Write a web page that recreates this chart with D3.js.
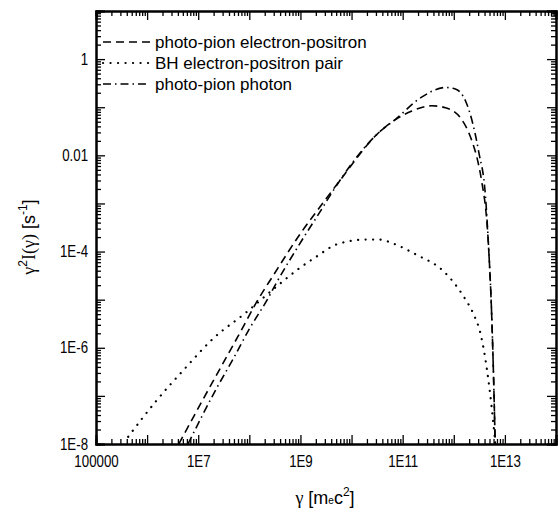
<!DOCTYPE html>
<html>
<head>
<meta charset="utf-8">
<script src="https://cdn.jsdelivr.net/npm/d3@7"></script>
<style>
  body { margin: 0; background: #fff; }
  .tick text { font-family: "Liberation Sans", Arial, sans-serif; font-size: 16px; fill: #000; }
  .legend text { font-family: "Liberation Sans", Arial, sans-serif; font-size: 17px; }
</style>
</head>
<body>
<script>
// Chart Params
var svgWidth = 558;
var svgHeight = 513;
var margin = { top: 11, right: 2, bottom: 69, left: 96 };
var width = svgWidth - margin.left - margin.right;
var height = svgHeight - margin.top - margin.bottom;
var narrow = 0.83; // tick labels use a condensed face

// tick labels (every second decade is labelled)
var xTickValues = [1e5, 1e7, 1e9, 1e11, 1e13];
var xTickLabels = ["100000", "1E7", "1E9", "1E11", "1E13"];
var yTickValues = [1, 1e-2, 1e-4, 1e-6, 1e-8];
var yTickLabels = ["1", "0.01", "1E-4", "1E-6", "1E-8"];

// series as [log10 gamma, log10 value]
var seriesNames = ["photo-pion electron-positron", "BH electron-positron pair", "photo-pion photon"];

var pionPairs = [
  [6.62, -8.0], [7.09, -7.08], [7.45, -6.39], [7.78, -5.76], [8.17, -5.0],
  [8.46, -4.51], [9.01, -3.61], [9.37, -3.09], [9.76, -2.54], [10.54, -1.52],
  [11.18, -1.08], [11.57, -0.97], [11.84, -1.01], [12.15, -1.25], [12.32, -1.6],
  [12.49, -2.22], [12.54, -2.5], [12.68, -3.89], [12.74, -5.27], [12.78, -6.67],
  [12.81, -8.0]
];

var bhPairs = [
  [5.63, -7.85], [6.19, -7.09], [6.74, -6.43], [7.3, -5.8], [7.92, -5.28],
  [8.54, -4.72], [9.0, -4.33], [9.32, -4.1], [9.71, -3.85], [10.3, -3.75],
  [10.54, -3.75], [10.83, -3.84], [11.26, -4.06], [11.8, -4.41], [12.19, -4.93],
  [12.39, -5.31], [12.52, -5.69], [12.65, -6.46], [12.74, -7.22], [12.8, -7.85],
  [12.83, -8.2]
];

var pionPhotons = [
  [6.8, -8.0], [7.36, -6.84], [7.69, -6.22], [8.01, -5.59], [8.34, -5.02],
  [8.53, -4.65], [9.02, -3.78], [9.45, -3.06], [9.56, -2.87], [10.54, -1.52],
  [10.86, -1.25], [11.37, -0.79], [11.84, -0.59], [12.03, -0.62], [12.23, -0.87],
  [12.35, -1.25], [12.49, -1.94], [12.62, -2.85], [12.68, -3.89], [12.74, -5.27],
  [12.78, -6.67], [12.81, -8.0]
];

var svg = d3.select("body")
  .append("svg")
  .attr("width", svgWidth)
  .attr("height", svgHeight);

var chartGroup = svg.append("g")
  .attr("transform", `translate(${margin.left}, ${margin.top})`);

var xScale = d3.scaleLog().domain([1e5, 1e14]).range([0, width]);
var yScale = d3.scaleLog().domain([1e-8, 1e1]).range([height, 0]);

// decade and minor tick positions
var xMajor = d3.range(5, 15).map(e => Math.pow(10, e));
var yMajor = d3.range(-8, 2).map(e => Math.pow(10, e));
function minors(majors) {
  var out = [];
  majors.slice(0, -1).forEach(m => { for (var k = 2; k <= 9; k++) out.push(m * k); });
  return out;
}

function fmt(vals, labels) {
  return function (d) {
    var i = vals.findIndex(v => Math.abs(Math.log10(v) - Math.log10(d)) < 1e-6);
    return i >= 0 ? labels[i] : "";
  };
}

// bottom axis
var xAxis = chartGroup.append("g")
  .attr("transform", `translate(0, ${height})`)
  .call(d3.axisBottom(xScale).tickValues(xMajor).tickSize(-9).tickPadding(12)
    .tickFormat(fmt(xTickValues, xTickLabels)));
xAxis.selectAll("text").attr("transform", `scale(${narrow},1)`);
chartGroup.append("g")
  .attr("transform", `translate(0, ${height})`)
  .call(d3.axisBottom(xScale).tickValues(minors(xMajor)).tickSize(-5).tickFormat(""));
// top axis
chartGroup.append("g")
  .call(d3.axisTop(xScale).tickValues(xMajor).tickSize(-9).tickFormat(""));
chartGroup.append("g")
  .call(d3.axisTop(xScale).tickValues(minors(xMajor)).tickSize(-5).tickFormat(""));
// left axis
var yAxis = chartGroup.append("g")
  .call(d3.axisLeft(yScale).tickValues(yMajor).tickSize(-9).tickPadding(8)
    .tickFormat(fmt(yTickValues, yTickLabels)));
yAxis.selectAll("text")
  .attr("x", -8 / narrow)
  .attr("transform", `scale(${narrow},1)`);
chartGroup.append("g")
  .call(d3.axisLeft(yScale).tickValues(minors(yMajor)).tickSize(-5).tickFormat(""));
// right axis
chartGroup.append("g")
  .attr("transform", `translate(${width}, 0)`)
  .call(d3.axisRight(yScale).tickValues(yMajor).tickSize(-9).tickFormat(""));
chartGroup.append("g")
  .attr("transform", `translate(${width}, 0)`)
  .call(d3.axisRight(yScale).tickValues(minors(yMajor)).tickSize(-5).tickFormat(""));

chartGroup.selectAll(".domain").attr("stroke", "#000").attr("stroke-width", 2);
chartGroup.selectAll(".tick line").attr("stroke", "#000").attr("stroke-width", 1.3);

// clip the curves to the frame
svg.append("defs").append("clipPath").attr("id", "plotclip")
  .append("rect").attr("width", width).attr("height", height);

var line = d3.line()
  .x(d => xScale(Math.pow(10, d[0])))
  .y(d => yScale(Math.pow(10, d[1])))
  .curve(d3.curveMonotoneX);

var styles = [
  { data: pionPairs, dash: "8,5", w: 1.6, cap: "butt" },
  { data: bhPairs, dash: "0.1,7.4", w: 2.2, cap: "round" },
  { data: pionPhotons, dash: "8,4,1.5,4", w: 1.6, cap: "butt" }
];

var curves = chartGroup.append("g").attr("clip-path", "url(#plotclip)");
styles.forEach(s => {
  curves.append("path")
    .datum(s.data)
    .attr("d", line)
    .attr("fill", "none")
    .attr("stroke", "#000")
    .attr("stroke-width", s.w)
    .attr("stroke-linecap", s.cap)
    .attr("stroke-dasharray", s.dash);
});

// legend
var legend = svg.append("g").attr("class", "legend");
var legendRows = [42, 63, 84];
seriesNames.forEach((name, i) => {
  legend.append("line")
    .attr("x1", 103).attr("x2", 150)
    .attr("y1", legendRows[i]).attr("y2", legendRows[i])
    .attr("stroke", "#000")
    .attr("stroke-width", styles[i].w)
    .attr("stroke-linecap", styles[i].cap)
    .attr("stroke-dasharray", styles[i].dash);
  legend.append("text")
    .attr("x", 155)
    .attr("y", legendRows[i])
    .attr("dy", "0.35em")
    .text(name);
});

// x axis label
var xLabel = svg.append("text")
  .attr("x", 325)
  .attr("y", 504)
  .attr("text-anchor", "middle")
  .attr("font-family", "Liberation Sans, Arial, sans-serif")
  .attr("font-size", 18);
xLabel.append("tspan").attr("font-family", "Liberation Serif, serif").text("γ");
xLabel.append("tspan").text(" [m");
xLabel.append("tspan").attr("font-size", 10).text("e");
xLabel.append("tspan").text("c");
xLabel.append("tspan").attr("font-size", 12).attr("dy", -8).text("2");
xLabel.append("tspan").attr("dy", 8).text("]");

// y axis label
var yLabel = svg.append("text")
  .attr("transform", "translate(35, 237) rotate(-90)")
  .attr("text-anchor", "middle")
  .attr("font-family", "Liberation Sans, Arial, sans-serif")
  .attr("font-size", 18);
yLabel.append("tspan").attr("font-family", "Liberation Serif, serif").text("γ");
yLabel.append("tspan").attr("font-size", 12).attr("dy", -8).text("2");
yLabel.append("tspan").attr("dy", 8).attr("font-family", "Liberation Serif, serif").text("I(γ)");
yLabel.append("tspan").text(" [s");
yLabel.append("tspan").attr("font-size", 12).attr("dy", -8).text("-1");
yLabel.append("tspan").attr("dy", 8).text("]");
</script>
</body>
</html>
